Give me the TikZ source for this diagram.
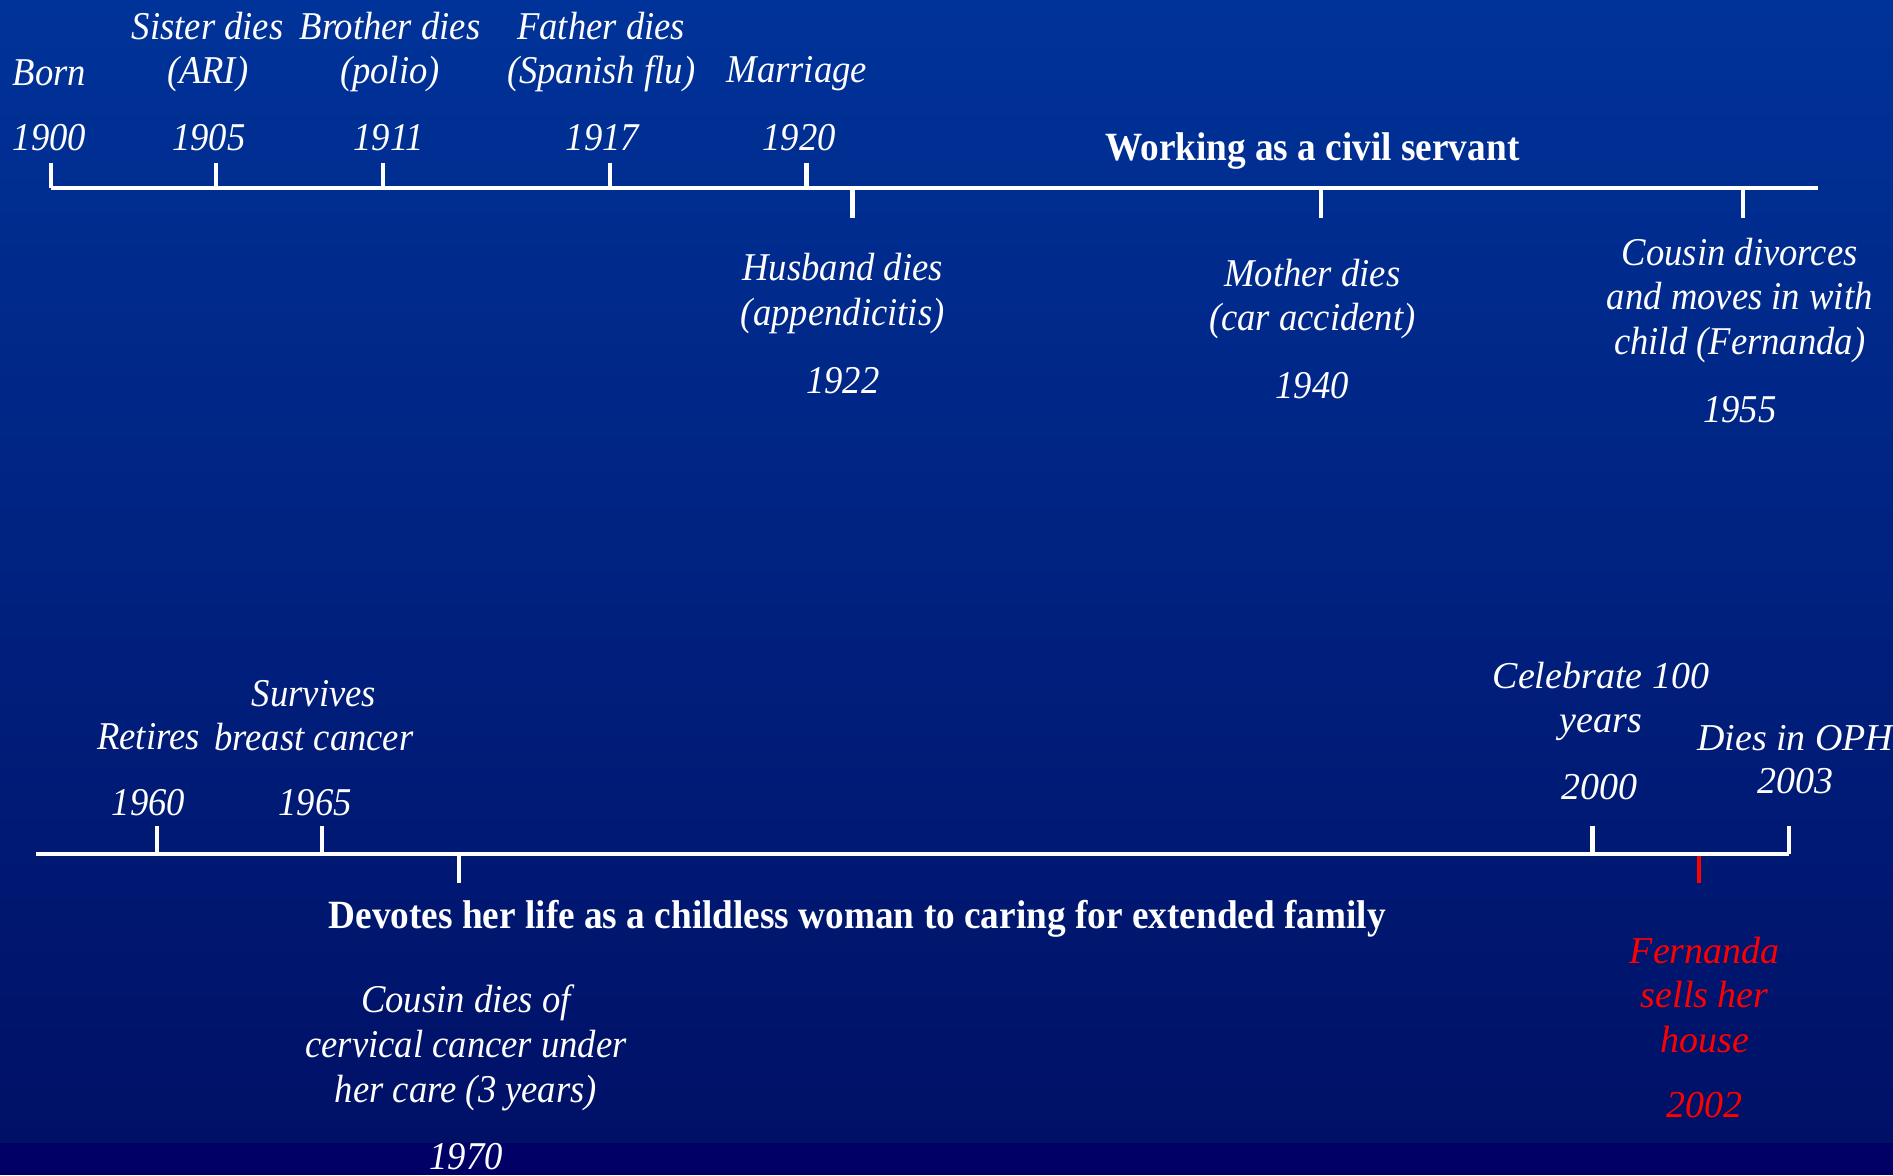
\documentclass[tikz,border=0pt]{standalone}
\usepackage{fontspec}
\setmainfont{Liberation Serif}[FakeStretch=0.93]
\newfontfamily\widefont{Liberation Serif}
\definecolor{slidetop}{RGB}{0,51,153}
\definecolor{slidebot}{RGB}{0,16,102}
\definecolor{slidestrip}{RGB}{0,0,102}
\definecolor{salered}{RGB}{255,0,0}
\tikzset{
  evt/.style={text=white, font=\fontsize{11.2}{12.7}\selectfont\itshape, align=center, inner sep=0pt},
  evtwide/.style={evt, font=\widefont\fontsize{10.8}{12.7}\selectfont\itshape},
  period/.style={text=white, font=\fontsize{11.4}{12.7}\selectfont\bfseries, inner sep=0pt},
  axis/.style={draw=white, line width=1.2pt},
  tick/.style={draw=white, line width=1.2pt},
}
\begin{document}
\begin{tikzpicture}[x=0.01cm, y=-0.01cm, line cap=butt]
  \useasboundingbox (0,0) rectangle (1893,1175);
  % Hintergrund
  \shade[top color=slidetop, bottom color=slidebot] (0,0) rectangle (1893,1143);
  \fill[slidestrip] (0,1143) rectangle (1893,1175);

  % obere Zeitachse
  \coordinate (L1a) at (50.7,188.3);
  \coordinate (L1b) at (1818,188.3);
  \draw[axis] (L1a) -- (L1b);
  \foreach \x in {50.7,216,382.7,609.7,806.5} {
    \draw[tick] (\x,188.3) -- ++(0,-25);
  }
  \foreach \x in {852.4,1320.8,1743.3} {
    \draw[tick] (\x,188.3) -- ++(0,30);
  }
  \node[evt] (born) at (49.5,72.4) {Born};
  \node[evt] (y1900) at (49.5,137.6) {1900};
  \node[evt] (sister) at (207.7,52) {Sister dies\\(ARI)};
  \node[evt] (y1905) at (208.9,137.6) {1905};
  \node[evt] (brother) at (390,52) {Brother dies\\(polio)};
  \node[evt] (y1911) at (388.8,137.6) {1911};
  \node[evt] (father) at (601.2,52) {Father dies\\(Spanish flu)};
  \node[evt] (y1917) at (602.4,137.6) {1917};
  \node[evt] (marriage) at (796.8,74) {Marriage};
  \node[evt] (y1920) at (799.2,137.6) {1920};
  \node[period] (civil) at (1312.3,151) {Working as a civil servant};
  \node[evt] (husband) at (842.7,293.5) {Husband dies\\(appendicitis)};
  \node[evt] (y1922) at (842.7,380.3) {1922};
  \node[evt] (mother) at (1312.3,299) {Mother dies\\(car accident)};
  \node[evt] (y1940) at (1312.3,385.1) {1940};
  \node[evt] (cousin) at (1739.7,300.5) {Cousin divorces\\and moves in with\\child (Fernanda)};
  \node[evt] (y1955) at (1739.7,409.3) {1955};

  % untere Zeitachse
  \coordinate (L2a) at (36.2,853.6);
  \coordinate (L2b) at (1789.2,853.6);
  \draw[axis] (L2a) -- (L2b);
  \foreach \x in {157,322.3,1592.4} {
    \draw[tick] (\x,853.6) -- ++(0,-28);
  }
  \draw[tick] (1789.2,854.2) -- ++(0,-28.6);
  \draw[tick] (458.8,853.6) -- ++(0,29);
  \draw[line width=1.2pt, salered] (1698.7,856) -- ++(0,26.5);
  \node[evt] (retires) at (148.5,736.5) {Retires};
  \node[evt] (y1960) at (148.5,802.9) {1960};
  \node[evt] (survives) at (314,715.5) {Survives\\breast cancer};
  \node[evt] (y1965) at (315.1,802.9) {1965};
  \node[period] (devotes) at (857.2,918.7) {Devotes her life as a childless woman to caring for extended family};
  \node[evt] (cousdies) at (466,1048) {Cousin dies of\\cervical cancer under\\her care (3 years)};
  \node[evt] (y1970) at (466,1156.6) {1970};
  \node[evtwide] (celebrate) at (1600.9,701.5) {Celebrate 100\\years};
  \node[evtwide] (y2000) at (1599.7,787.2) {2000};
  \node[evtwide] (oph) at (1795.3,737.7) {Dies in OPH};
  \node[evtwide] (y2003) at (1795.3,781.1) {2003};
  \node[evtwide, text=salered] (sells) at (1704.7,995) {Fernanda\\sells her\\house};
  \node[evtwide, text=salered] (y2002) at (1704.7,1104.7) {2002};
\end{tikzpicture}
\end{document}
